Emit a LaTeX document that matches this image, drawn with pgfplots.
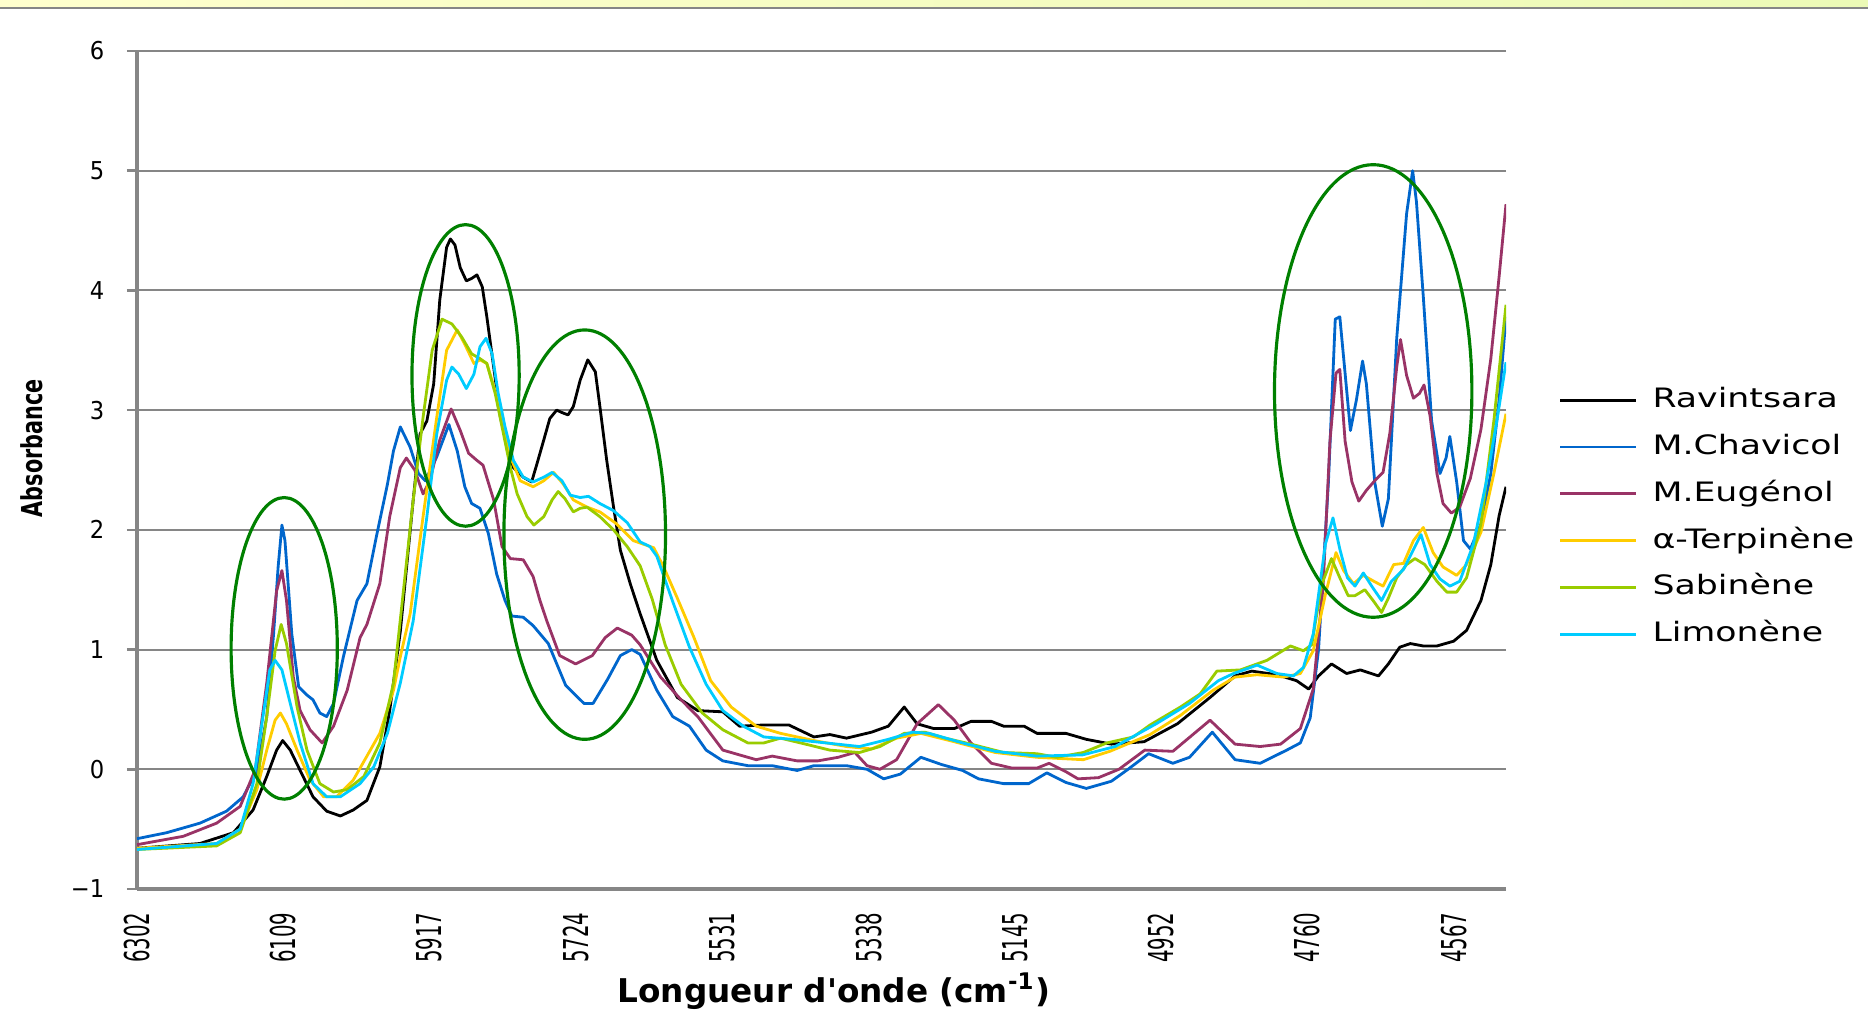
\documentclass[border=0pt]{standalone}
\usepackage{fontspec}
\setmainfont{DejaVu Sans}
\newfontfamily\tickfont[FakeStretch=0.92]{DejaVu Sans}
\newfontfamily\xtickfont[FakeStretch=0.575]{DejaVu Sans}
\newfontfamily\legfont[FakeStretch=1.3]{DejaVu Sans}
\newfontfamily\ylabfont[FakeStretch=0.72]{DejaVu Sans}
\usepackage{pgfplots}
\pgfplotsset{compat=1.18}
\definecolor{gridgray}{RGB}{134,134,134}
\definecolor{cblue}{RGB}{0,102,204}
\definecolor{cpurple}{RGB}{153,51,102}
\definecolor{cyellow}{RGB}{255,204,0}
\definecolor{cgreen}{RGB}{153,204,0}
\definecolor{ccyan}{RGB}{0,204,255}
\definecolor{ellgreen}{RGB}{0,128,0}
\definecolor{bandL}{RGB}{255,255,205}
\definecolor{bandR}{RGB}{236,250,182}
\begin{document}
\begin{tikzpicture}
\useasboundingbox (-13.7mm,-13.7mm) rectangle (173.1mm,88.9mm);
\begin{axis}[
  at={(0,0)}, anchor=south west,
  scale only axis, width=136.9mm, height=83.8mm,
  x dir=reverse, xmin=4498, xmax=6302, ymin=-1, ymax=6,
  axis x line*=bottom, axis y line*=left,
  axis line style={draw=gridgray, line width=1pt, -},
  x axis line style={-}, y axis line style={-},
  xtick={6302,6109,5917,5724,5531,5338,5145,4952,4760,4567},
  xticklabels={6302,6109,5917,5724,5531,5338,5145,4952,4760,4567},
  ytick={-1,0,1,2,3,4,5,6},
  yticklabels={−1,0,1,2,3,4,5,6},
  xtick style={draw=none},
  ytick style={draw=gridgray, line width=0.7pt},
  tick align=outside, major tick length=1mm,
  ymajorgrids, grid style={draw=gridgray, line width=0.6pt},
  yticklabel style={font=\tickfont\fontsize{7}{8}\selectfont, text=black, anchor=east, inner sep=0pt, xshift=-2.2mm},
  xticklabel style={font=\xtickfont\fontsize{9.75}{10}\selectfont, text=black, yshift=-1.3mm, rotate=90, anchor=east, inner sep=0pt},
  xlabel={Longueur d\textquotesingle onde (cm\textsuperscript{-1})},
  xlabel style={font=\bfseries\fontsize{9.3}{10}\selectfont, at={(axis description cs:0.509,-0.1217)}, anchor=center},
  ylabel={Absorbance},
  ylabel style={font=\ylabfont\bfseries\fontsize{8.2}{9}\selectfont, at={(axis description cs:-0.0767,0.526)}, anchor=center, rotate=0},
  legend cell align=left,
  legend image code/.code={\draw[#1] (0mm,0mm) -- (7.6mm,0mm);},
  legend style={draw=none, fill=none, at={(1.038,0.599)}, anchor=north west,
    inner sep=0pt, column sep=1.5mm, row sep=2.18mm,
    font=\legfont\fontsize{7.6}{9}\selectfont,
    nodes={inner sep=0pt, text height=2mm, text depth=0.5mm}},
  every axis plot/.append style={line width=0.8pt, line join=round},
]
% Ravintsara
\addplot[black] coordinates {
(6302,-0.66) (6219,-0.62) (6175,-0.53) (6149,-0.34) (6131,-0.06) (6118,0.16) (6110,0.24) (6100,0.16)
(6087,-0.01) (6070,-0.23) (6052,-0.35) (6034,-0.39) (6017,-0.34) (5999,-0.26) (5982,0.02) (5969,0.49)
(5955,1.15) (5945,1.80) (5938,2.25) (5929,2.80) (5920,2.91) (5911,3.22) (5903,3.92) (5894,4.36)
(5889,4.43) (5883,4.38) (5876,4.19) (5868,4.08) (5861,4.10) (5854,4.13) (5847,4.03) (5841,3.78)
(5832,3.36) (5823,2.94) (5814,2.69) (5806,2.52) (5793,2.44) (5782,2.40) (5775,2.55) (5766,2.75)
(5758,2.93) (5749,3.00) (5742,2.98) (5734,2.96) (5727,3.03) (5718,3.25) (5708,3.42) (5698,3.32)
(5692,3.03) (5683,2.58) (5674,2.19) (5665,1.83) (5652,1.55) (5639,1.30) (5617,0.91) (5590,0.60)
(5563,0.49) (5530,0.48) (5508,0.36) (5476,0.37) (5443,0.37) (5410,0.27) (5389,0.29) (5367,0.26)
(5334,0.31) (5312,0.36) (5291,0.52) (5274,0.38) (5252,0.34) (5225,0.34) (5203,0.40) (5176,0.40)
(5160,0.36) (5133,0.36) (5116,0.30) (5078,0.30) (5051,0.25) (5018,0.21) (4975,0.23) (4931,0.38)
(4888,0.60) (4855,0.78) (4833,0.82) (4800,0.79) (4774,0.74) (4758,0.67) (4745,0.78) (4728,0.88)
(4708,0.80) (4690,0.83) (4666,0.78) (4653,0.88) (4638,1.02) (4624,1.05) (4607,1.03) (4589,1.03)
(4567,1.07) (4550,1.16) (4531,1.41) (4518,1.71) (4507,2.12) (4498,2.36)
};
\addlegendentry{Ravintsara}
% M.Chavicol
\addplot[cblue] coordinates {
(6302,-0.58) (6263,-0.53) (6219,-0.45) (6184,-0.35) (6162,-0.23) (6144,-0.01) (6131,0.44) (6122,1.13)
(6116,1.69) (6111,2.04) (6107,1.91) (6098,1.13) (6089,0.69) (6078,0.62) (6070,0.58) (6061,0.47)
(6052,0.44) (6043,0.55) (6030,0.94) (6012,1.41) (5999,1.55) (5986,1.96) (5972,2.38) (5964,2.66)
(5955,2.86) (5942,2.69) (5931,2.47) (5922,2.41) (5907,2.61) (5891,2.88) (5880,2.66) (5870,2.36)
(5861,2.22) (5850,2.18) (5839,1.97) (5828,1.63) (5817,1.41) (5808,1.28) (5793,1.27) (5780,1.20)
(5760,1.05) (5737,0.70) (5713,0.55) (5701,0.55) (5682,0.75) (5665,0.95) (5650,1.00) (5639,0.96)
(5617,0.66) (5596,0.44) (5574,0.36) (5552,0.16) (5530,0.07) (5497,0.03) (5465,0.03) (5432,-0.01)
(5410,0.03) (5367,0.03) (5340,0.00) (5318,-0.08) (5296,-0.04) (5269,0.10) (5242,0.04) (5214,-0.01)
(5193,-0.08) (5160,-0.12) (5127,-0.12) (5103,-0.03) (5078,-0.11) (5051,-0.16) (5018,-0.10) (4996,0.00)
(4969,0.13) (4937,0.05) (4915,0.10) (4885,0.31) (4855,0.08) (4822,0.05) (4787,0.16) (4769,0.22)
(4756,0.43) (4745,1.00) (4732,2.40) (4723,3.76) (4717,3.78) (4703,2.83) (4695,3.09) (4687,3.41)
(4682,3.22) (4671,2.40) (4661,2.03) (4653,2.26) (4642,3.60) (4629,4.64) (4621,5.00) (4616,4.74)
(4607,3.95) (4596,2.91) (4585,2.47) (4577,2.60) (4572,2.78) (4563,2.40) (4554,1.91) (4545,1.84)
(4531,2.05) (4518,2.47) (4507,3.09) (4498,3.78)
};
\addlegendentry{M.Chavicol}
% M.Eugenol
\addplot[cpurple] coordinates {
(6302,-0.63) (6241,-0.56) (6197,-0.45) (6166,-0.31) (6146,0.00) (6131,0.72) (6118,1.49) (6111,1.66)
(6105,1.41) (6096,0.77) (6087,0.49) (6074,0.33) (6058,0.22) (6043,0.36) (6025,0.66) (6008,1.10)
(5999,1.21) (5982,1.55) (5969,2.11) (5955,2.52) (5947,2.60) (5936,2.50) (5925,2.30) (5916,2.41)
(5903,2.75) (5888,3.01) (5876,2.83) (5865,2.64) (5854,2.58) (5846,2.54) (5832,2.25) (5821,1.86)
(5810,1.76) (5793,1.75) (5780,1.61) (5771,1.41) (5762,1.24) (5745,0.95) (5724,0.88) (5702,0.95)
(5685,1.10) (5669,1.18) (5650,1.12) (5639,1.04) (5612,0.77) (5585,0.58) (5563,0.44) (5530,0.16)
(5508,0.12) (5486,0.08) (5465,0.11) (5432,0.07) (5405,0.07) (5378,0.10) (5356,0.14) (5340,0.03)
(5323,0.00) (5301,0.08) (5274,0.38) (5246,0.54) (5225,0.41) (5203,0.22) (5176,0.05) (5149,0.01)
(5116,0.01) (5100,0.05) (5078,-0.02) (5062,-0.08) (5035,-0.07) (5008,0.00) (4974,0.16) (4937,0.15)
(4888,0.41) (4855,0.21) (4822,0.19) (4795,0.21) (4769,0.34) (4752,0.67) (4739,1.53) (4730,2.74)
(4722,3.31) (4717,3.34) (4710,2.74) (4701,2.40) (4692,2.24) (4682,2.33) (4671,2.41) (4660,2.48)
(4651,2.81) (4642,3.36) (4637,3.59) (4629,3.29) (4620,3.10) (4612,3.14) (4606,3.21) (4598,2.95)
(4589,2.47) (4581,2.22) (4570,2.14) (4559,2.19) (4545,2.43) (4531,2.84) (4518,3.43) (4507,4.12)
(4498,4.72)
};
\addlegendentry{M.Eugénol}
% alpha-Terpinene
\addplot[cyellow] coordinates {
(6302,-0.66) (6197,-0.62) (6166,-0.50) (6144,-0.17) (6131,0.16) (6120,0.41) (6113,0.47) (6105,0.38)
(6091,0.16) (6074,-0.09) (6056,-0.23) (6039,-0.23) (6017,-0.09) (5999,0.11) (5982,0.30) (5964,0.66)
(5955,0.94) (5942,1.30) (5925,2.11) (5907,2.94) (5894,3.50) (5880,3.67) (5870,3.55) (5858,3.39)
(5850,3.42) (5841,3.39) (5830,3.16) (5819,2.86) (5808,2.58) (5797,2.41) (5780,2.36) (5766,2.41)
(5753,2.48) (5740,2.38) (5727,2.25) (5709,2.19) (5692,2.15) (5670,2.05) (5648,1.91) (5621,1.85)
(5608,1.69) (5590,1.43) (5568,1.10) (5546,0.74) (5519,0.52) (5486,0.36) (5454,0.30) (5410,0.24)
(5367,0.19) (5334,0.17) (5301,0.26) (5269,0.30) (5225,0.23) (5171,0.14) (5116,0.10) (5055,0.08)
(5020,0.15) (4967,0.29) (4927,0.45) (4884,0.66) (4855,0.77) (4826,0.79) (4791,0.77) (4769,0.80)
(4752,0.99) (4736,1.46) (4722,1.81) (4712,1.66) (4699,1.55) (4686,1.62) (4672,1.57) (4660,1.53)
(4646,1.71) (4633,1.72) (4620,1.91) (4607,2.02) (4594,1.81) (4581,1.69) (4563,1.62) (4550,1.71)
(4531,1.98) (4514,2.47) (4498,2.97)
};
\addlegendentry{α-Terpinène}
% Sabinene
\addplot[cgreen] coordinates {
(6302,-0.67) (6197,-0.64) (6166,-0.53) (6144,-0.12) (6131,0.44) (6120,0.99) (6112,1.21) (6105,1.05)
(6091,0.52) (6078,0.16) (6061,-0.12) (6043,-0.19) (6025,-0.17) (6003,-0.06) (5982,0.22) (5964,0.72)
(5955,1.25) (5938,2.25) (5925,2.94) (5913,3.50) (5900,3.76) (5887,3.72) (5874,3.61) (5861,3.47)
(5850,3.43) (5841,3.39) (5830,3.14) (5819,2.80) (5810,2.52) (5801,2.30) (5788,2.11) (5779,2.04)
(5766,2.11) (5755,2.25) (5747,2.32) (5738,2.26) (5727,2.15) (5718,2.18) (5709,2.19) (5692,2.11)
(5674,2.00) (5656,1.86) (5639,1.70) (5623,1.42) (5606,1.04) (5585,0.71) (5557,0.47) (5530,0.33)
(5497,0.22) (5476,0.22) (5454,0.26) (5421,0.21) (5389,0.16) (5350,0.14) (5323,0.19) (5291,0.30)
(5264,0.31) (5237,0.26) (5203,0.21) (5160,0.14) (5116,0.13) (5090,0.10) (5055,0.14) (5024,0.22)
(4989,0.27) (4967,0.37) (4927,0.52) (4901,0.63) (4879,0.82) (4848,0.83) (4813,0.91) (4782,1.03)
(4765,0.99) (4754,1.04) (4741,1.54) (4728,1.76) (4717,1.60) (4706,1.45) (4697,1.45) (4684,1.50)
(4672,1.40) (4662,1.31) (4653,1.43) (4642,1.60) (4629,1.71) (4618,1.76) (4605,1.71) (4589,1.57)
(4576,1.48) (4563,1.48) (4550,1.60) (4531,2.05) (4514,2.91) (4498,3.88)
};
\addlegendentry{Sabinène}
% Limonene
\addplot[ccyan] coordinates {
(6302,-0.67) (6197,-0.62) (6166,-0.50) (6149,-0.12) (6136,0.44) (6127,0.83) (6120,0.91) (6111,0.83)
(6100,0.55) (6087,0.22) (6070,-0.12) (6052,-0.23) (6034,-0.23) (6008,-0.12) (5990,0.02) (5972,0.30)
(5955,0.72) (5938,1.24) (5920,2.11) (5907,2.80) (5894,3.25) (5887,3.36) (5878,3.30) (5868,3.18)
(5858,3.30) (5850,3.53) (5842,3.60) (5834,3.47) (5826,3.14) (5817,2.86) (5806,2.58) (5793,2.44)
(5780,2.40) (5766,2.44) (5755,2.48) (5742,2.41) (5731,2.29) (5718,2.27) (5707,2.28) (5692,2.22)
(5674,2.16) (5656,2.06) (5639,1.90) (5626,1.86) (5617,1.78) (5596,1.40) (5574,1.02) (5552,0.71)
(5530,0.49) (5503,0.36) (5476,0.27) (5438,0.25) (5394,0.22) (5350,0.19) (5312,0.25) (5280,0.31)
(5258,0.30) (5214,0.22) (5171,0.15) (5116,0.11) (5056,0.12) (5013,0.19) (4959,0.38) (4915,0.55)
(4877,0.74) (4857,0.80) (4826,0.87) (4800,0.80) (4778,0.78) (4765,0.85) (4752,1.13) (4736,1.88)
(4726,2.10) (4717,1.84) (4707,1.60) (4697,1.53) (4686,1.64) (4675,1.53) (4662,1.41) (4649,1.57)
(4633,1.67) (4622,1.81) (4610,1.96) (4598,1.71) (4585,1.59) (4572,1.53) (4559,1.57) (4541,1.88)
(4524,2.40) (4510,2.91) (4498,3.40)
};
\addlegendentry{Limonène}
% ellipses
\draw[ellgreen, line width=0.9pt] (axis cs:6108,1.01) ellipse [x radius=5.31mm, y radius=15.08mm];
\draw[ellgreen, line width=0.9pt] (axis cs:5869,3.29) ellipse [x radius=5.36mm, y radius=15.08mm];
\draw[ellgreen, line width=0.9pt] (axis cs:5712,1.96) ellipse [x radius=8.08mm, y radius=20.47mm];
\draw[ellgreen, line width=0.9pt] (axis cs:4673,3.16) ellipse [x radius=9.87mm, y radius=22.63mm];
\end{axis}
\shade[left color=bandL, right color=bandR] (-13.7mm,88.2mm) rectangle (173.1mm,88.9mm);
\draw[gridgray, line width=0.2mm] (-13.7mm,88.1mm) -- (173.1mm,88.1mm);
\end{tikzpicture}
\end{document}
